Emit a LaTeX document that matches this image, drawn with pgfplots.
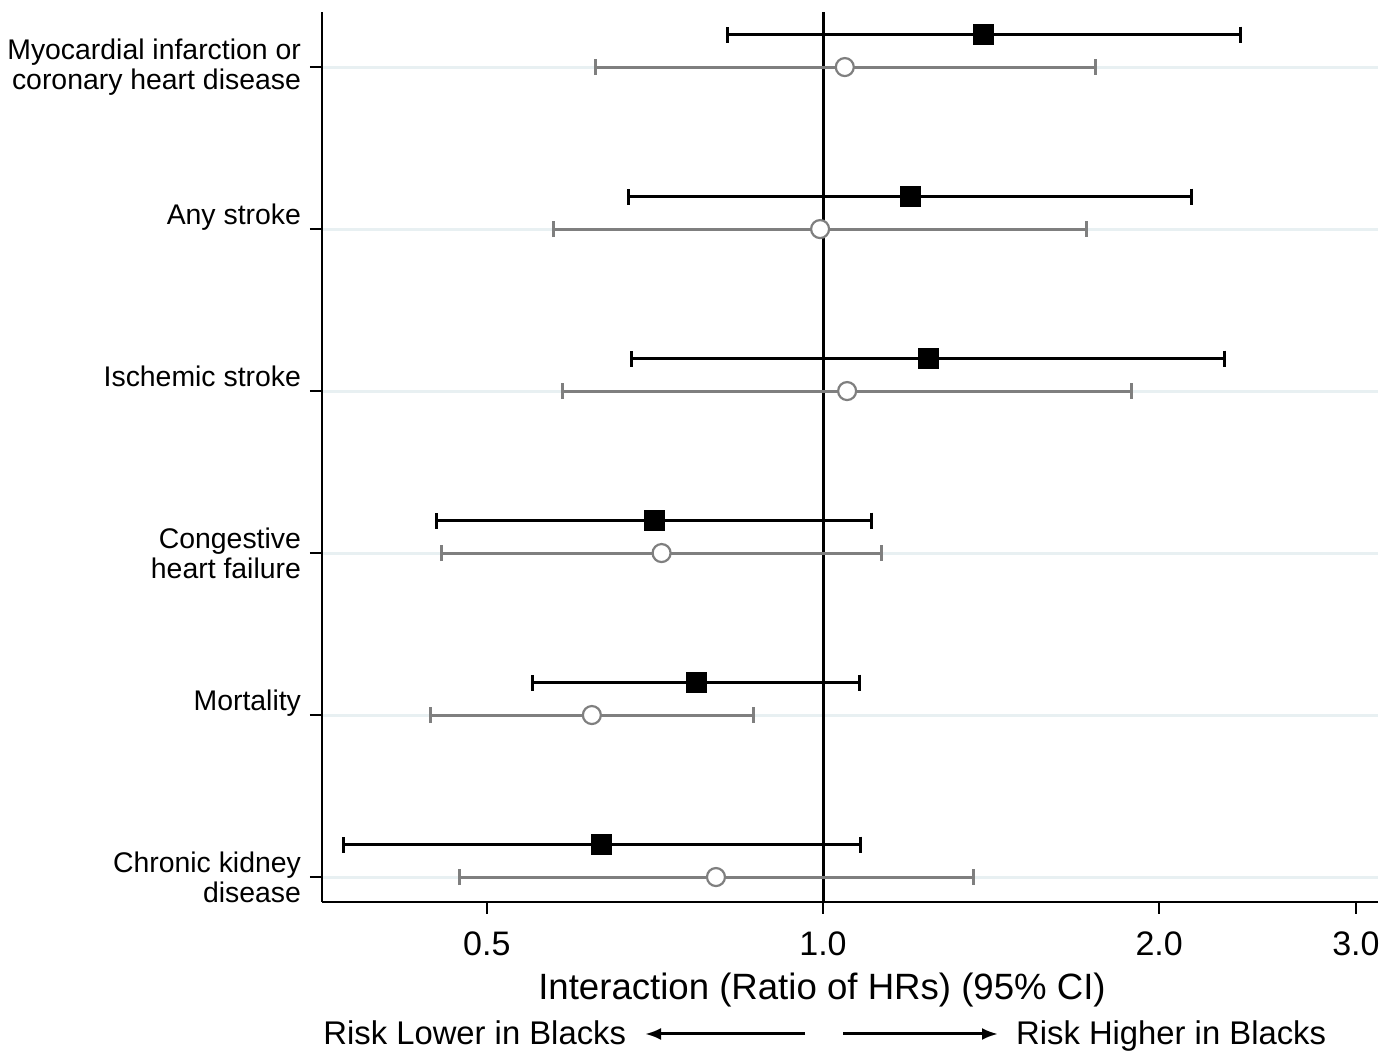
\documentclass[border=0pt]{standalone}
\usepackage{pgfplots}
\pgfplotsset{compat=1.18}
\usepackage{pgfplotstable}
\usetikzlibrary{arrows.meta}
\usepackage{fontspec}
\setmainfont{Liberation Sans}

\definecolor{cigray}{HTML}{7F7F7F}
\definecolor{gridblue}{HTML}{E8F0F2}

% ratio of HRs, lower / upper 95% CI
% y: 1 = chronic kidney disease ... 6 = MI/CHD; black rows sit 0.2 above
\pgfplotstableread{
y    est    lo     hi
6.2  1.391  0.822  2.364
5.2  1.197  0.670  2.136
4.2  1.242  0.674  2.287
3.2  0.706  0.451  1.104
2.2  0.771  0.549  1.079
1.2  0.634  0.372  1.081
}\blacktab
\pgfplotstableread{
y    est    lo     hi
6    1.046  0.625  1.753
5    0.994  0.574  1.720
4    1.051  0.585  1.888
3    0.717  0.455  1.129
2    0.621  0.445  0.867
1    0.802  0.473  1.363
}\graytab

\begin{document}
\begin{tikzpicture}
\begin{axis}[
  scale only axis,
  width=528pt, height=445pt,
  xmode=log,
  xmin=0.356, xmax=3.14,
  ymin=0.846, ymax=6.34,
  axis lines*=left,
  axis line style={line width=1pt},
  xtick={0.5,1,2,3},
  xticklabels={0.5,1.0,2.0,3.0},
  minor xtick={},
  ytick={1,2,3,4,5,6},
  yticklabels={{Chronic kidney\\disease},{Mortality\\\mbox{}},{Congestive\\heart failure},{Ischemic stroke\\\mbox{}},{Any stroke\\\mbox{}},{Myocardial infarction or\\coronary heart disease}},
  tick align=outside,
  major tick length=6pt,
  tick style={line width=1pt, black},
  ymajorgrids,
  y grid style={gridblue, line width=1.5pt},
  yticklabel style={align=right, font=\fontsize{14.2}{15}\selectfont, xshift=-1pt},
  xticklabel style={font=\fontsize{17}{20}\selectfont, yshift=-5.5pt},
  xlabel={Interaction (Ratio of HRs) (95\% CI)},
  xlabel style={font=\fontsize{18.3}{22}\selectfont, at={(axis description cs:0.4735,0)}, anchor=center, yshift=-44pt},
  clip=false,
]
  % reference line at 1
  \addplot[black, line width=1.5pt] coordinates {(1,0.846) (1,6.34)};

  \addplot[cigray, line width=1.5pt, mark=*, mark size=4.5pt,
    mark options={fill=white, draw=cigray, line width=1.1pt},
    only marks,
    error bars/.cd, x dir=both, x explicit,
    error mark=|, error mark options={mark size=4pt, line width=1.5pt, cigray},
    error bar style={line width=1.5pt, cigray}]
    table[x=est, y=y,
      x error plus expr=\thisrow{hi}-\thisrow{est},
      x error minus expr=\thisrow{est}-\thisrow{lo}] {\graytab};

  \addplot[black, line width=1.5pt, mark=square*, mark size=4.5pt,
    only marks,
    error bars/.cd, x dir=both, x explicit,
    error mark=|, error mark options={mark size=4pt, line width=1.5pt, black},
    error bar style={line width=1.5pt, black}]
    table[x=est, y=y,
      x error plus expr=\thisrow{hi}-\thisrow{est},
      x error minus expr=\thisrow{est}-\thisrow{lo}] {\blacktab};

  \coordinate (sw) at (rel axis cs:0,0);
  \coordinate (ne) at (rel axis cs:1,1);

  \node[anchor=base west, font=\fontsize{16.4}{20}\selectfont, inner sep=0pt]
    at ([yshift=-71.5pt]axis description cs:0.001,0) {Risk Lower in Blacks};
  \draw[-{Latex[length=8pt,width=6pt]}, line width=1.5pt] ([yshift=-66pt]axis description cs:0.4574,0) -- ([yshift=-66pt]axis description cs:0.3059,0);
  \draw[-{Latex[length=8pt,width=6pt]}, line width=1.5pt] ([yshift=-66pt]axis description cs:0.4934,0) -- ([yshift=-66pt]axis description cs:0.6402,0);
  \node[anchor=base west, font=\fontsize{16.4}{20}\selectfont, inner sep=0pt]
    at ([yshift=-71.5pt]axis description cs:0.657,0) {Risk Higher in Blacks};
\end{axis}
\path ([xshift=-161pt, yshift=-75pt]sw) ([xshift=10pt, yshift=6pt]ne);
\end{tikzpicture}
\end{document}
